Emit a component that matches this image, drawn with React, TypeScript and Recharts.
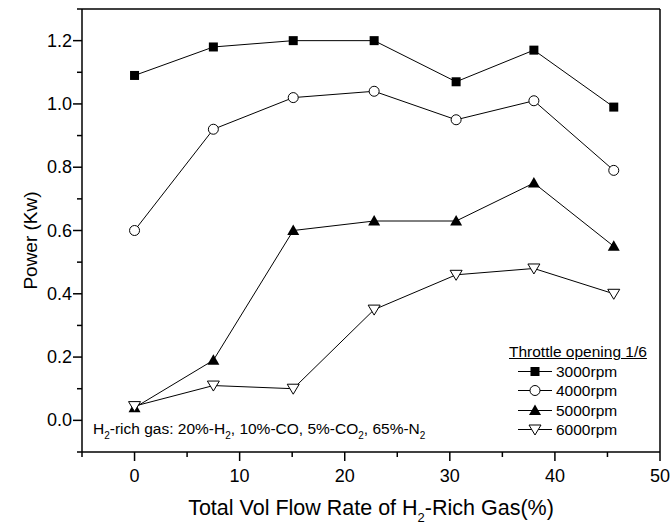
import { LineChart, Line, XAxis, YAxis, ReferenceLine, Legend } from "recharts";

const flowRate = [0, 7.5, 15.1, 22.8, 30.6, 38.0, 45.6];
const rpm3000 = [1.09, 1.18, 1.2, 1.2, 1.07, 1.17, 0.99];
const rpm4000 = [0.6, 0.92, 1.02, 1.04, 0.95, 1.01, 0.79];
const rpm5000 = [0.04, 0.19, 0.6, 0.63, 0.63, 0.75, 0.55];
const rpm6000 = [0.045, 0.11, 0.1, 0.35, 0.46, 0.48, 0.4];
const seriesNames = ["3000rpm", "4000rpm", "5000rpm", "6000rpm"];
const xTicks = [-5, 0, 5, 10, 15, 20, 25, 30, 35, 40, 45, 50];
const yTicks = [-0.1, 0, 0.1, 0.2, 0.3, 0.4, 0.5, 0.6, 0.7, 0.8, 0.9, 1.0, 1.1, 1.2, 1.3];

const FONT = "Arial, 'Liberation Sans', Helvetica, sans-serif";

const data = flowRate.map((x, i) => ({
  x,
  s3000: rpm3000[i],
  s4000: rpm4000[i],
  s5000: rpm5000[i],
  s6000: rpm6000[i],
}));

// marker shapes
function Marker({ kind, cx, cy }: { kind: number; cx: number; cy: number }) {
  if (kind === 0) return <rect x={cx - 4.5} y={cy - 4.5} width={9} height={9} fill="#000" />;
  if (kind === 1) return <circle cx={cx} cy={cy} r={5} fill="#fff" stroke="#000" strokeWidth={1} />;
  if (kind === 2)
    return <polygon points={`${cx},${cy - 6} ${cx + 6},${cy + 4.5} ${cx - 6},${cy + 4.5}`} fill="#000" />;
  return (
    <polygon
      points={`${cx - 6},${cy - 4.5} ${cx + 6},${cy - 4.5} ${cx},${cy + 5.5}`}
      fill="#fff"
      stroke="#000"
      strokeWidth={1}
    />
  );
}

const dotFor = (kind: number) => (p: any) =>
  <Marker key={`${kind}-${p.index}`} kind={kind} cx={p.cx} cy={p.cy} />;

function XTick(props: any) {
  const { x, y, payload } = props;
  const major = payload.value % 10 === 0;
  return (
    <g>
      <line x1={x} x2={x} y1={y} y2={y + (major ? 9 : 5)} stroke="#000" strokeWidth={1.5} />
      {major && (
        <text x={x} y={y + 30} textAnchor="middle" fontSize={18} fontFamily={FONT} fill="#000">
          {payload.value}
        </text>
      )}
    </g>
  );
}

function YTick(props: any) {
  const { x, y, payload } = props;
  const major = Math.round(payload.value * 10) % 2 === 0;
  return (
    <g>
      <line x1={x} x2={x - (major ? 9 : 5)} y1={y} y2={y} stroke="#000" strokeWidth={1.5} />
      {major && (
        <text x={x - 10} y={y + 6} textAnchor="end" fontSize={18} fontFamily={FONT} fill="#000">
          {payload.value.toFixed(1)}
        </text>
      )}
    </g>
  );
}

function LegendBox() {
  return (
    <div style={{ fontFamily: FONT, fontSize: 15.5, color: "#000" }}>
      <div style={{ height: 20, lineHeight: "19px", textDecoration: "underline" }}>Throttle opening 1/6</div>
      {seriesNames.map((name, i) => (
        <div key={name} style={{ height: 19.3, lineHeight: "19px", display: "flex", alignItems: "center" }}>
          <svg width={47} height={19} style={{ flexShrink: 0 }}>
            <line x1={9} x2={43} y1={9.5} y2={9.5} stroke="#000" strokeWidth={1} />
            <Marker kind={i} cx={26} cy={9.5} />
          </svg>
          <span>{name}</span>
        </div>
      ))}
    </div>
  );
}

export default function App() {
  return (
    <div style={{ position: "relative", width: 670, height: 528, background: "#fff" }}>
      <style>{`body{margin:0}`}</style>
      <LineChart width={670} height={528} data={data} margin={{ top: 9, right: 10, left: 0, bottom: 0 }}>
        <XAxis
          type="number"
          dataKey="x"
          domain={[-5, 50]}
          ticks={xTicks}
          interval={0}
          tick={<XTick />}
          tickLine={false}
          tickSize={0}
          tickMargin={0}
          axisLine={{ stroke: "#000", strokeWidth: 1.5 }}
          height={76}
          label={{
            content: (p: any) => {
              const vb = p.viewBox;
              return (
                <text
                  x={vb.x + vb.width / 2}
                  y={vb.y + 63}
                  textAnchor="middle"
                  fontSize={21.5}
                  fontFamily={FONT}
                  fill="#000"
                >
                  Total Vol Flow Rate of H
                  <tspan fontSize={13} dy={7}>2</tspan>
                  <tspan dy={-7}>-Rich Gas(%)</tspan>
                </text>
              );
            },
          }}
        />
        <YAxis
          type="number"
          domain={[-0.1, 1.3]}
          ticks={yTicks}
          interval={0}
          tick={<YTick />}
          tickLine={false}
          tickSize={0}
          tickMargin={0}
          axisLine={{ stroke: "#000", strokeWidth: 1.5 }}
          width={82}
          label={{
            content: (p: any) => {
              const vb = p.viewBox;
              const cx = 37;
              const cy = vb.y + vb.height / 2 + 10;
              return (
                <text
                  x={cx}
                  y={cy}
                  transform={`rotate(-90, ${cx}, ${cy})`}
                  textAnchor="middle"
                  fontSize={19}
                  fontFamily={FONT}
                  fill="#000"
                >
                  Power (Kw)
                </text>
              );
            },
          }}
        />
        <ReferenceLine y={1.3} stroke="#000" strokeWidth={1.5} />
        <ReferenceLine x={50} stroke="#000" strokeWidth={1.5} />
        <Line type="linear" dataKey="s3000" name={seriesNames[0]} stroke="#000" strokeWidth={1} dot={dotFor(0)} isAnimationActive={false} />
        <Line type="linear" dataKey="s4000" name={seriesNames[1]} stroke="#000" strokeWidth={1} dot={dotFor(1)} isAnimationActive={false} />
        <Line type="linear" dataKey="s5000" name={seriesNames[2]} stroke="#000" strokeWidth={1} dot={dotFor(2)} isAnimationActive={false} />
        <Line type="linear" dataKey="s6000" name={seriesNames[3]} stroke="#000" strokeWidth={1} dot={dotFor(3)} isAnimationActive={false} />
        <Legend
          layout="vertical"
          align="center"
          verticalAlign="middle"
          content={() => <LegendBox />}
          wrapperStyle={{ position: "absolute", left: 509, top: 342, width: 150 }}
        />
      </LineChart>
      <div
        style={{
          position: "absolute",
          left: 93,
          top: 421,
          fontFamily: FONT,
          fontSize: 15.5,
          lineHeight: "16px",
          whiteSpace: "nowrap",
          color: "#000",
        }}
      >
        H<sub style={{ fontSize: 10, verticalAlign: -5 }}>2</sub>-rich gas: 20%-H
        <sub style={{ fontSize: 10, verticalAlign: -5 }}>2</sub>, 10%-CO, 5%-CO
        <sub style={{ fontSize: 10, verticalAlign: -5 }}>2</sub>, 65%-N
        <sub style={{ fontSize: 10, verticalAlign: -5 }}>2</sub>
      </div>
    </div>
  );
}
